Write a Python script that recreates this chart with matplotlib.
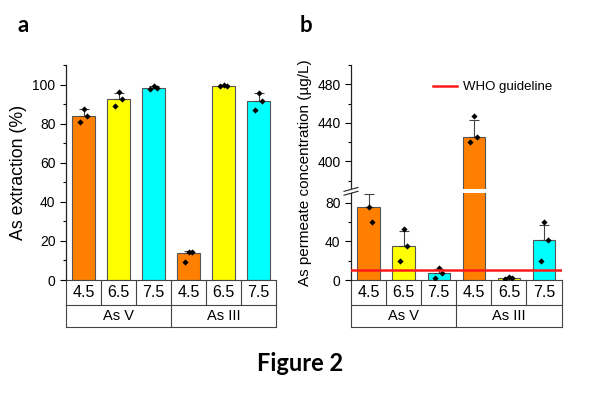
import numpy as np
import matplotlib
matplotlib.use("Agg")
import matplotlib.pyplot as plt

plt.rcParams['font.family'] = ['Liberation Sans', 'DejaVu Sans']

ph_labels = ['4.5', '6.5', '7.5', '4.5', '6.5', '7.5']
groups = ['As V', 'As III']
bar_colors = ['#ff8000', '#ffff00', '#00ffff', '#ff8000', '#ffff00', '#00ffff']

# panel a: extraction (%)
extraction_mean = [84, 92.5, 98.5, 14, 99.5, 91.5]
extraction_err = [3.5, 3, 1, 1, 0.3, 4]
extraction_pts = [[87.5, 84, 81], [96, 92.5, 89], [99.5, 98.5, 97.5],
                  [14.3, 14.3, 9], [99.8, 99.5, 99.3], [95.5, 91.5, 87]]

# panel b: permeate concentration (ug/L)
permeate_mean = [76, 35, 7, 425, 2, 41]
permeate_err = [13, 15.5, 4, 18, 1, 16.5]
permeate_pts = [[76, 60], [53, 35, 20], [12, 7, 2],
                [447, 425, 420], [3, 2, 1], [60, 41, 20]]
who_limit = 10

# broken axis for panel b
LOW, HIGH, GAP = 90, 371, 4


def fwd(v):
    v = np.asarray(v, dtype=float)
    mid = LOW + (v - LOW) * GAP / (HIGH - LOW)
    return np.where(v <= LOW, v, np.where(v >= HIGH, v - HIGH + LOW + GAP, mid))


def inv(d):
    d = np.asarray(d, dtype=float)
    mid = LOW + (d - LOW) * (HIGH - LOW) / GAP
    return np.where(d <= LOW, d, np.where(d >= LOW + GAP, d + HIGH - LOW - GAP, mid))


def draw_bars(ax, means, errs, pts):
    x = np.arange(len(means))
    ax.bar(x, means, width=0.64, color=bar_colors, edgecolor='#555555', linewidth=0.8, zorder=2)
    ax.errorbar(x, means, yerr=[np.zeros(len(errs)), errs], fmt='none', ecolor='#444444',
                elinewidth=0.8, capsize=3.5, capthick=0.8, zorder=4)
    offs = [0.0, 0.1, -0.1]
    for i, p in enumerate(pts):
        ax.scatter([i + offs[j] for j in range(len(p))], p, marker='D', s=10, color='black',
                   linewidths=0, zorder=5)
    ax.set_xlim(-0.5, 5.5)


def draw_table(ax, r1=0.116, r2=0.102):
    tr = ax.get_xaxis_transform()
    kw = dict(color='#444444', lw=0.8, transform=tr, clip_on=False)
    for y in [0, -r1, -r1 - r2]:
        ax.plot([-0.5, 5.5], [y, y], **kw)
    for xb in np.arange(-0.5, 6, 1):
        ax.plot([xb, xb], [0, -r1], **kw)
    for xb in [-0.5, 2.5, 5.5]:
        ax.plot([xb, xb], [-r1, -r1 - r2], **kw)
    for i, lab in enumerate(ph_labels):
        ax.text(i, -r1 / 2, lab, transform=tr, ha='center', va='center', fontsize=11.5)
    for k, g in enumerate(groups):
        ax.text(1 + 3 * k, -r1 - r2 / 2, g, transform=tr, ha='center', va='center', fontsize=10.5)


def style_axis(ax):
    for s in ['top', 'right', 'bottom']:
        ax.spines[s].set_visible(False)
    ax.spines['left'].set_color('#222222')
    ax.spines['left'].set_linewidth(0.9)
    ax.tick_params(axis='x', bottom=False, labelbottom=False)
    ax.tick_params(axis='y', which='major', direction='out', length=4, width=0.8, labelsize=10)
    ax.tick_params(axis='y', which='minor', direction='out', length=2.5, width=0.8)


fig = plt.figure(figsize=(6, 3.93), dpi=100)

ax1 = fig.add_axes([0.11, 0.2875, 0.35, 0.547])
draw_bars(ax1, extraction_mean, extraction_err, extraction_pts)
ax1.set_ylim(0, 110)
ax1.set_yticks([0, 20, 40, 60, 80, 100])
ax1.set_yticks([10, 30, 50, 70, 90, 110], minor=True)
ax1.set_ylabel('As extraction (%)', fontsize=12.8, labelpad=4)
style_axis(ax1)
draw_table(ax1)

ax2 = fig.add_axes([0.585, 0.2875, 0.351, 0.547])
ax2.set_yscale('function', functions=(fwd, inv))
draw_bars(ax2, permeate_mean, permeate_err, permeate_pts)
ax2.set_ylim(0, 500)
ax2.set_yticks([0, 40, 80, 400, 440, 480])
ax2.set_yticks([20, 60, 380, 420, 460, 500], minor=True)
ax2.set_ylabel('As permeate concentration (\u00b5g/L)', fontsize=11, labelpad=4)
style_axis(ax2)
draw_table(ax2)

ax2.axhline(who_limit, color='#ff1a1a', lw=1.8, zorder=6, label='WHO guideline')
ax2.axhspan(LOW, HIGH, xmin=-0.03, xmax=1, color='white', lw=0, zorder=3, clip_on=False)
top = float(fwd(500))
y_lo = LOW / top
y_hi = (LOW + GAP) / top
for yb in [y_lo, y_hi]:
    ax2.plot([-0.033, 0.033], [yb - 0.009, yb + 0.009], transform=ax2.transAxes,
             color='#222222', lw=0.8, clip_on=False, zorder=7)
ax2.legend(loc='upper left', bbox_to_anchor=(0.365, 0.95), frameon=False, fontsize=9.5,
           handlelength=1.8, handletextpad=0.45, borderaxespad=0)

fig.text(0.038, 0.935, 'a', fontsize=16, fontweight='bold', family='Lato', ha='center', va='center')
fig.text(0.51, 0.935, 'b', fontsize=16, fontweight='bold', family='Lato', ha='center', va='center')
fig.text(0.5, 0.075, 'Figure 2', fontsize=17, fontweight='bold', family='Lato', ha='center', va='center')

fig.savefig('out.png', dpi=100)
